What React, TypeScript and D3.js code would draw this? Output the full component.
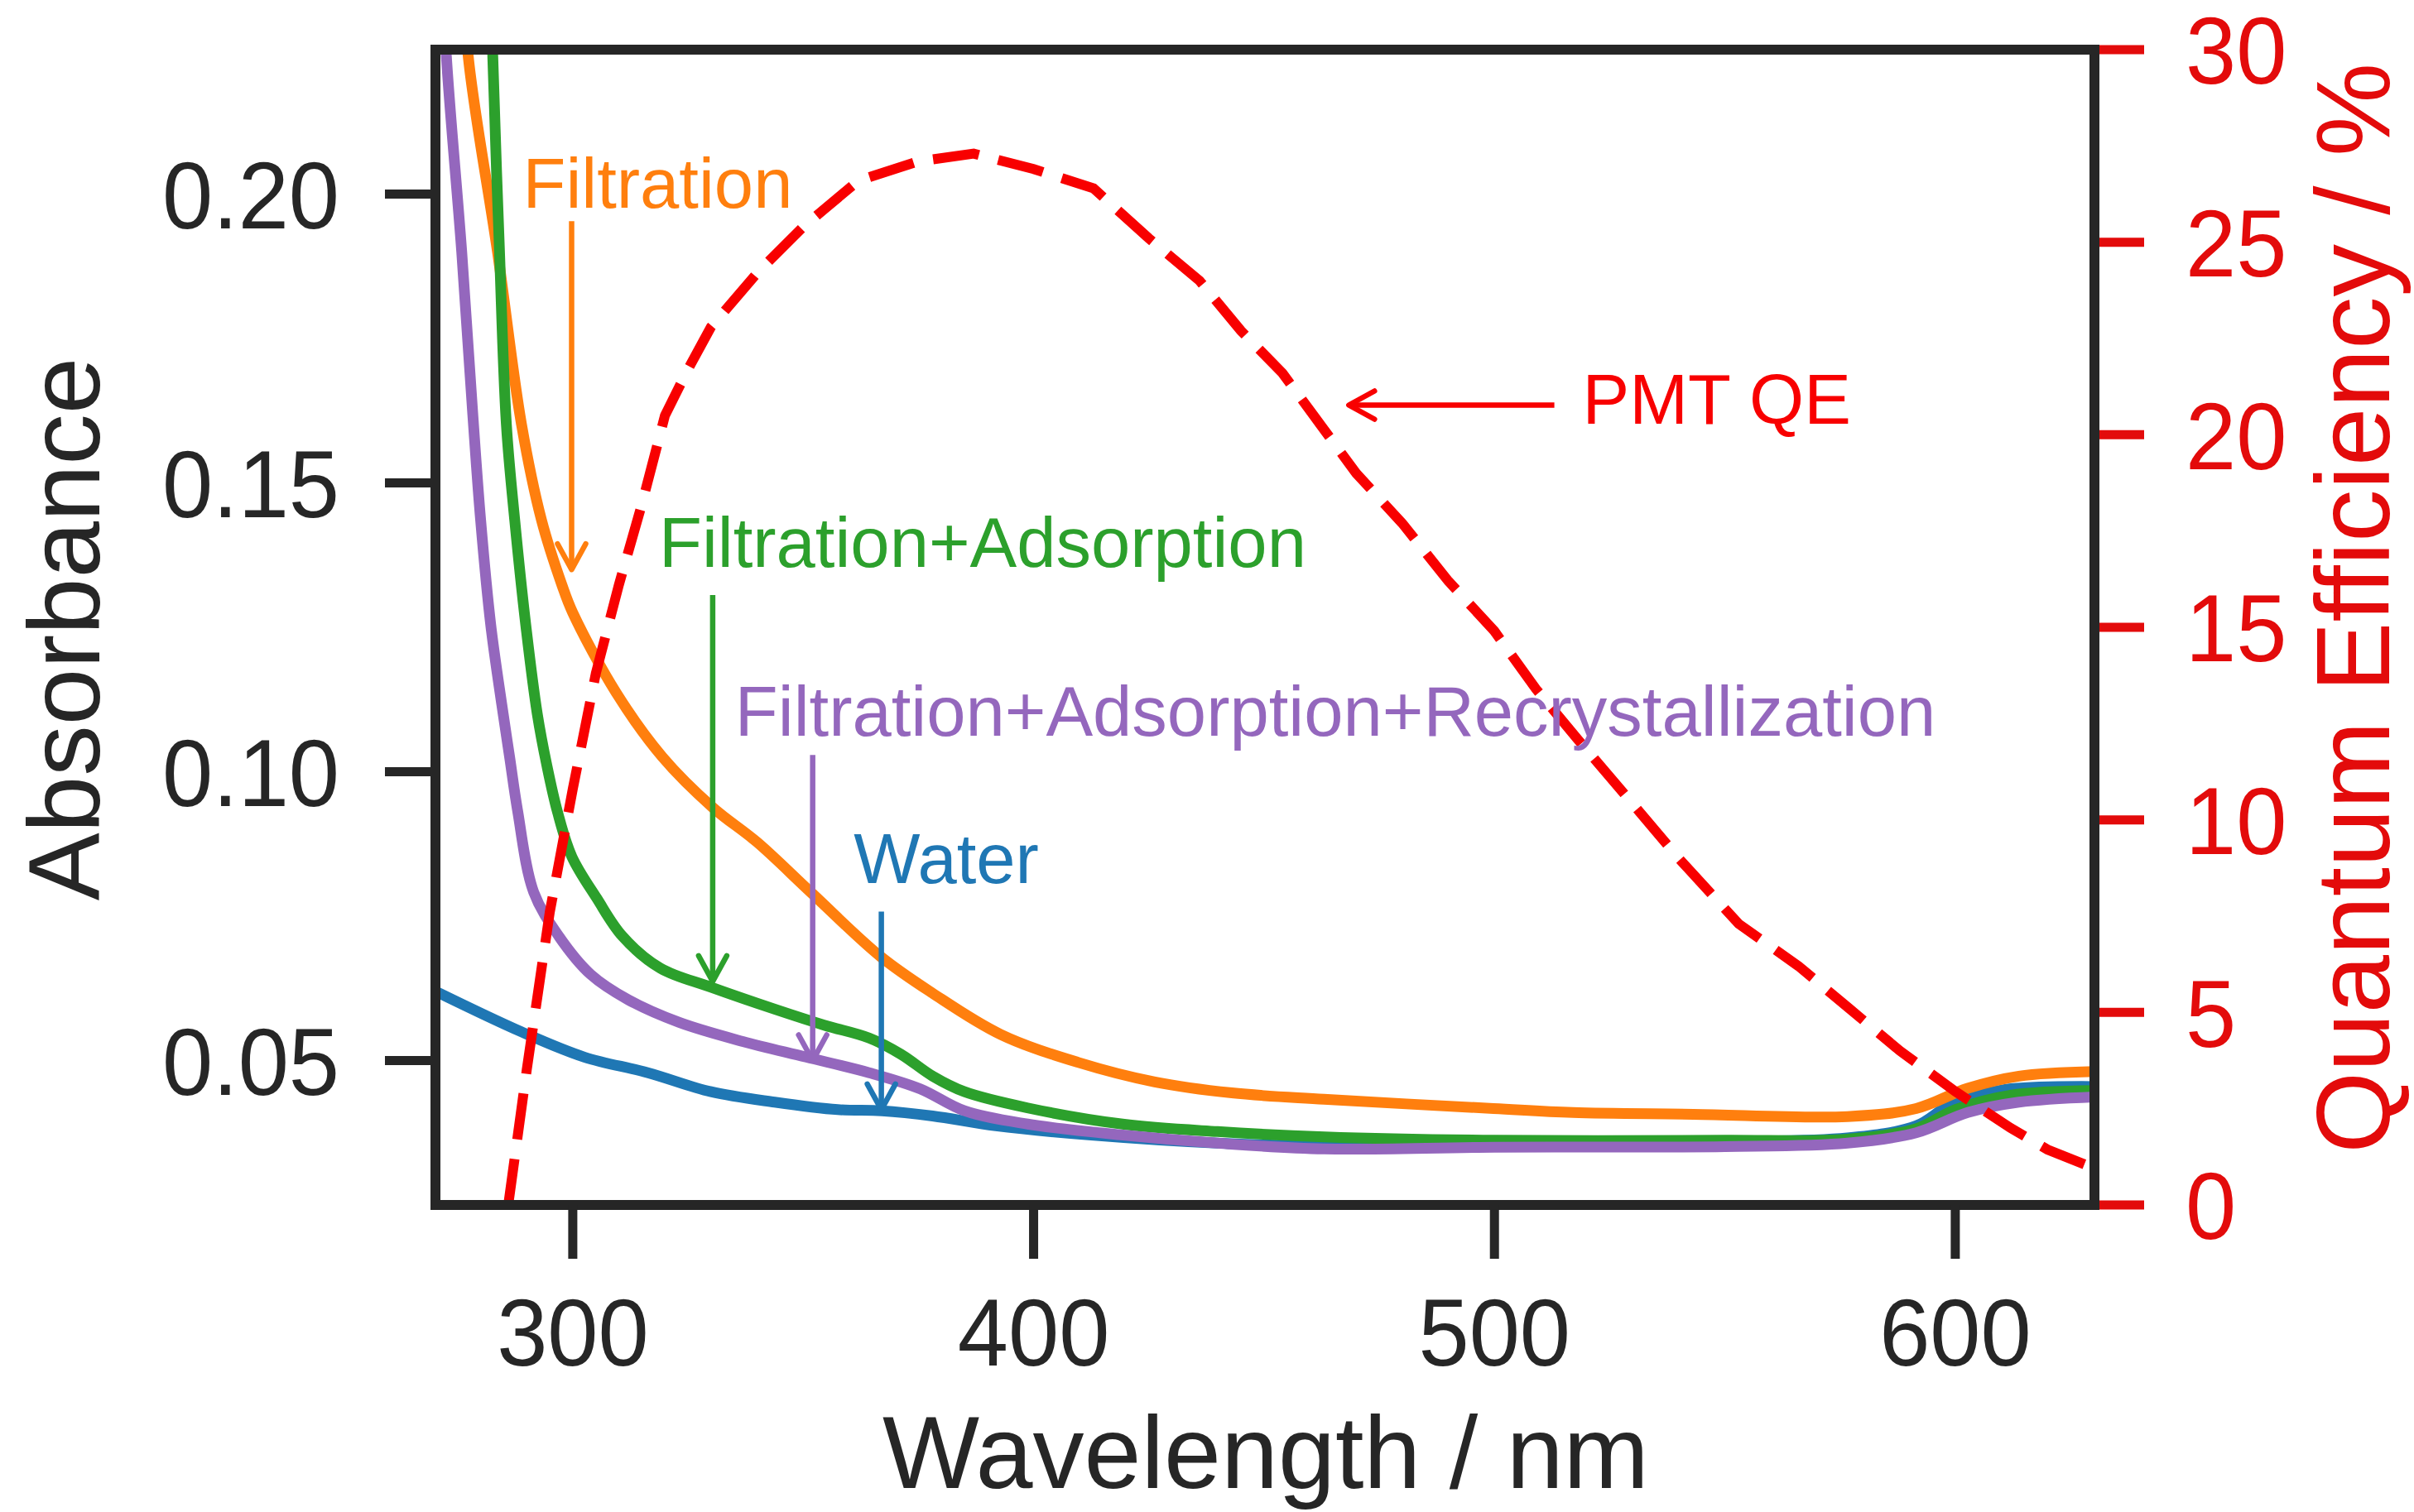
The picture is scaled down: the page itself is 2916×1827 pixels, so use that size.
import * as d3 from 'd3'
import { useEffect, useRef } from 'react'

// [wavelength nm, absorbance]
const waterSeries: [number, number][] = [
  [270.2, 0.0620], [288.8, 0.0550], [302.5, 0.0506], [316.3, 0.0479], [330.0, 0.0446],
  [343.8, 0.0428], [357.5, 0.0415], [367.1, 0.0413], [378.1, 0.0404], [391.8, 0.0387],
  [412.5, 0.0371], [439.9, 0.0357], [463.1, 0.0352], [500, 0.0356], [550, 0.0360],
  [576.6, 0.0366], [591.5, 0.0387], [598.9, 0.0423], [610.1, 0.0449], [630.2, 0.0455]
]
const filtrationSeries: [number, number][] = [
  [276.6, 0.240], [277.2, 0.2248], [283.7, 0.1898], [288.9, 0.1600], [293.2, 0.1436],
  [297.7, 0.1322], [300.0, 0.1275], [309.4, 0.1137], [319.4, 0.1026], [330.4, 0.0938],
  [340.0, 0.0878], [351.7, 0.0791], [366.8, 0.0680], [378.0, 0.0617], [392.9, 0.0545],
  [409.6, 0.0497], [426.3, 0.0463], [443.0, 0.0444], [463.0, 0.0433], [499.8, 0.0417],
  [517, 0.0410], [543.2, 0.0407], [576.6, 0.0403], [591.5, 0.0417], [602.7, 0.0452],
  [613.8, 0.0473], [630.2, 0.0481]
]
const adsorptionSeries: [number, number][] = [
  [282.2, 0.240], [282.6, 0.2248], [284.1, 0.190], [285.6, 0.160], [287.4, 0.1436],
  [289.8, 0.1254], [292.3, 0.110], [294.4, 0.101], [296.7, 0.093], [299.8, 0.0853],
  [305.2, 0.0781], [310.8, 0.0715], [319.0, 0.0660], [330.0, 0.0627], [343.8, 0.0589],
  [354.7, 0.0561], [364.3, 0.0539], [371.2, 0.0511], [378.1, 0.0473], [385.0, 0.0446],
  [398.7, 0.0418], [419.3, 0.0390], [439.9, 0.0377], [463.1, 0.0368], [500, 0.0362],
  [550, 0.0362], [576.6, 0.0364], [591.5, 0.0382], [600, 0.0415], [612, 0.0440],
  [630.2, 0.0448]
]
const recrystSeries: [number, number][] = [
  [271.8, 0.240], [272.5, 0.2248], [275.9, 0.190], [278.3, 0.1619], [280.0, 0.1436],
  [282.2, 0.1254], [284.6, 0.1116], [286.3, 0.1025], [288.0, 0.0934], [291.5, 0.0792],
  [297.0, 0.0715], [303.9, 0.0649], [312.1, 0.0605], [323.1, 0.0566], [336.9, 0.0533],
  [350.6, 0.0506], [364.3, 0.0479], [375.4, 0.0451], [385.0, 0.0413], [398.7, 0.0390],
  [419.3, 0.0371], [439.9, 0.0357], [463.1, 0.0347], [500, 0.0350], [550, 0.0351],
  [576.6, 0.0357], [591.5, 0.0375], [602.7, 0.0410], [613.8, 0.0428], [630.2, 0.0437]
]
// [wavelength nm, quantum efficiency %]
const pmtQE: [number, number][] = [
  [286, 0], [290, 3.5], [295, 7.6], [300, 10.8], [305, 13.8], [310, 16.1], [315, 18.2],
  [320, 20.5], [325, 21.7], [330, 22.8], [340, 24.2], [350, 25.4], [362, 26.6], [375, 27.1],
  [387, 27.3], [400, 26.9], [413, 26.4], [425, 25.1], [436, 24.0], [445, 22.7], [454, 21.6],
  [462, 20.3], [470, 19.0], [480, 17.7], [490, 16.2], [500, 14.9], [509, 13.4], [518, 12.1],
  [528, 10.7], [540, 9.0], [553, 7.3], [566, 6.2], [577, 5.1], [588, 4.0], [600, 2.95],
  [612, 2.0], [620, 1.44], [630.2, 0.95]
]

const wavelengthTicks = [300, 400, 500, 600]
const absorbanceTicks = [0.05, 0.10, 0.15, 0.20]
const qeTicks = [0, 5, 10, 15, 20, 25, 30]

const curves = [
  { name: 'Water', color: '#1f77b4', data: waterSeries },
  { name: 'Filtration', color: '#ff7f0e', data: filtrationSeries },
  { name: 'Filtration+Adsorption', color: '#2ca02c', data: adsorptionSeries },
  { name: 'Filtration+Adsorption+Recrystallization', color: '#9467bd', data: recrystSeries }
]

// text position and a downward arrow, all in data units
const notes = [
  { text: 'Filtration', color: '#ff7f0e', tx: 289.15, ty: 0.1976, ax: 299.75, a0: 0.1953, a1: 0.1350 },
  { text: 'Filtration+Adsorption', color: '#2ca02c', tx: 318.7, ty: 0.1355, ax: 330.36, a0: 0.1306, a1: 0.0637 },
  { text: 'Filtration+Adsorption+Recrystallization', color: '#9467bd', tx: 335.2, ty: 0.1062, ax: 352.06, a0: 0.1029, a1: 0.0500 },
  { text: 'Water', color: '#1f77b4', tx: 360.98, ty: 0.0807, ax: 366.96, a0: 0.0758, a1: 0.0415 }
]
const qeNote = { text: 'PMT QE', tx: 519.1, ty: 20.29, x0: 513.0, x1: 468.4, ay: 20.77 }

const FONT = '"Liberation Sans", Arial, Helvetica, sans-serif'
const INK = '#262626'
const RED = '#e30b0b'
const QE_RED = '#f80000'

function App() {
  const ref = useRef<SVGSVGElement>(null)

  useEffect(() => {
    const svg = d3.select(ref.current)
    svg.selectAll('*').remove()

    const left = 526, right = 2530, top = 60, bottom = 1456
    const x = d3.scaleLinear().domain([270.2, 630.2]).range([left, right])
    const y = d3.scaleLinear().domain([0.025, 0.225]).range([bottom, top])
    const yQE = d3.scaleLinear().domain([0, 30]).range([bottom, top])

    svg.append('rect').attr('width', 2916).attr('height', 1827).attr('fill', '#fff')

    svg.append('clipPath').attr('id', 'plot-clip')
      .append('rect').attr('x', left).attr('y', top)
      .attr('width', right - left).attr('height', bottom - top)

    const plot = svg.append('g').attr('clip-path', 'url(#plot-clip)')

    const line = d3.line<[number, number]>()
      .x(d => x(d[0])).y(d => y(d[1]))
      .curve(d3.curveCatmullRom.alpha(0.5))

    plot.selectAll('path.abs').data(curves).enter().append('path')
      .attr('class', 'abs')
      .attr('d', d => line(d.data))
      .attr('fill', 'none')
      .attr('stroke', d => d.color)
      .attr('stroke-width', 13)
      .attr('stroke-linejoin', 'round')

    const qeLine = d3.line<[number, number]>().x(d => x(d[0])).y(d => yQE(d[1]))
    plot.append('path')
      .attr('d', qeLine(pmtQE))
      .attr('fill', 'none')
      .attr('stroke', QE_RED)
      .attr('stroke-width', 12)
      .attr('stroke-dasharray', '56,24')

    // frame
    svg.append('rect')
      .attr('x', left).attr('y', top)
      .attr('width', right - left).attr('height', bottom - top)
      .attr('fill', 'none').attr('stroke', INK).attr('stroke-width', 12)

    // left axis
    const la = svg.append('g')
    la.selectAll('line').data(absorbanceTicks).enter().append('line')
      .attr('x1', left - 61).attr('x2', left)
      .attr('y1', d => y(d)).attr('y2', d => y(d))
      .attr('stroke', INK).attr('stroke-width', 11)
    la.selectAll('g').data(absorbanceTicks).enter().append('g')
      .attr('transform', d => `translate(410,${y(d)})`)
      .append('text')
      .attr('transform', 'scale(1,1.04)')
      .attr('dy', '0.36em')
      .attr('text-anchor', 'end')
      .attr('font-family', FONT).attr('font-size', 110).attr('fill', INK)
      .text(d => d3.format('.2f')(d))

    // bottom axis
    const ba = svg.append('g')
    ba.selectAll('line').data(wavelengthTicks).enter().append('line')
      .attr('x1', d => x(d)).attr('x2', d => x(d))
      .attr('y1', bottom).attr('y2', bottom + 65)
      .attr('stroke', INK).attr('stroke-width', 11)
    ba.selectAll('g').data(wavelengthTicks).enter().append('g')
      .attr('transform', d => `translate(${x(d)},1650)`)
      .append('text')
      .attr('transform', 'scale(1,1.04)')
      .attr('text-anchor', 'middle')
      .attr('font-family', FONT).attr('font-size', 110).attr('fill', INK)
      .text(d => String(d))

    // right axis
    const ra = svg.append('g')
    ra.selectAll('line').data(qeTicks).enter().append('line')
      .attr('x1', right + 6).attr('x2', right + 60)
      .attr('y1', d => yQE(d)).attr('y2', d => yQE(d))
      .attr('stroke', RED).attr('stroke-width', 11)
    ra.selectAll('g').data(qeTicks).enter().append('g')
      .attr('transform', d => `translate(2640,${yQE(d)})`)
      .append('text')
      .attr('transform', 'scale(1,1.04)')
      .attr('dy', '0.36em')
      .attr('font-family', FONT).attr('font-size', 110).attr('fill', RED)
      .text(d => String(d))

    // axis titles
    svg.append('text')
      .attr('transform', 'translate(120,760) rotate(-90)')
      .attr('text-anchor', 'middle')
      .attr('font-family', FONT).attr('font-size', 123).attr('fill', INK)
      .text('Absorbance')
    svg.append('text')
      .attr('x', 1529).attr('y', 1798)
      .attr('text-anchor', 'middle')
      .attr('font-family', FONT).attr('font-size', 124).attr('fill', INK)
      .text('Wavelength / nm')
    svg.append('text')
      .attr('transform', 'translate(2886,735) rotate(-90)')
      .attr('text-anchor', 'middle')
      .attr('font-family', FONT).attr('font-size', 127).attr('fill', RED)
      .text('Quantum Efficiency / %')

    // annotations
    const ann = svg.append('g')
    notes.forEach(n => {
      ann.append('text')
        .attr('x', x(n.tx)).attr('y', y(n.ty))
        .attr('font-family', FONT).attr('font-size', 85).attr('fill', n.color)
        .text(n.text)
      const ax = x(n.ax), ay = y(n.a1)
      ann.append('line')
        .attr('x1', ax).attr('x2', ax).attr('y1', y(n.a0)).attr('y2', ay)
        .attr('stroke', n.color).attr('stroke-width', 6.5)
      ann.append('path')
        .attr('d', `M${ax - 17},${ay - 31}L${ax},${ay}L${ax + 17},${ay - 31}`)
        .attr('fill', 'none').attr('stroke', n.color).attr('stroke-width', 6.5)
        .attr('stroke-linecap', 'round').attr('stroke-linejoin', 'round')
    })

    const qx0 = x(qeNote.x0), qx1 = x(qeNote.x1), qy = yQE(qeNote.ay)
    ann.append('text')
      .attr('x', x(qeNote.tx)).attr('y', yQE(qeNote.ty))
      .attr('font-family', FONT).attr('font-size', 85).attr('fill', QE_RED)
      .text(qeNote.text)
    ann.append('line')
      .attr('x1', qx0).attr('x2', qx1).attr('y1', qy).attr('y2', qy)
      .attr('stroke', QE_RED).attr('stroke-width', 6.5)
    ann.append('path')
      .attr('d', `M${qx1 + 31},${qy - 17}L${qx1},${qy}L${qx1 + 31},${qy + 17}`)
      .attr('fill', 'none').attr('stroke', QE_RED).attr('stroke-width', 6.5)
      .attr('stroke-linecap', 'round').attr('stroke-linejoin', 'round')
  }, [])

  return (
    <div>
      <style>{'body{margin:0}'}</style>
      <svg ref={ref} width={2916} height={1827} style={{ display: 'block' }} />
    </div>
  )
}

export default App
